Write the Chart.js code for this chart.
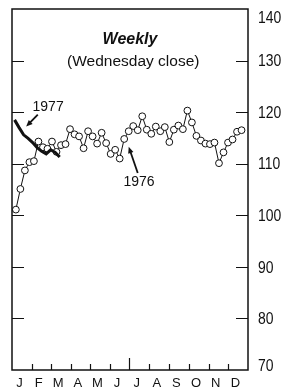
<!DOCTYPE html>
<html>
<head>
<meta charset="utf-8">
<script src="https://cdn.jsdelivr.net/npm/chart.js@4.4.0/dist/chart.umd.min.js"></script>
<style>
  html, body { margin: 0; padding: 0; background: #fff; }
</style>
</head>
<body>
<canvas id="myChart" width="293" height="391"></canvas>
<script>
// month letters and the day-of-year each month starts on (1976, leap year)
const monthLabels = ["J", "F", "M", "A", "M", "J", "J", "A", "S", "O", "N", "D"];
const monthStarts = [0, 31, 60, 91, 121, 152, 182, 213, 244, 274, 305, 335, 366];
const yTicks = [70, 80, 90, 100, 110, 120, 130, 140];

// weekly Wednesday closes
const firstWednesday1976 = 6;   // Jan 7, 1976
const close1976 = [101.1, 105.1, 108.7, 110.3, 110.5, 114.3, 113.2, 112.9, 114.3, 112.3,
    113.6, 113.8, 116.7, 115.7, 115.3, 113.0, 116.3, 115.3, 113.9, 116.0,
    114.0, 111.9, 112.7, 111.0, 114.8, 116.3, 117.3, 116.5, 119.2, 116.6,
    115.8, 117.2, 116.3, 117.1, 114.2, 116.6, 117.4, 116.7, 120.3, 118.0,
    115.4, 114.5, 113.9, 113.8, 114.1, 110.1, 112.2, 114.1, 114.7, 116.2, 116.5];

const firstWednesday1977 = 4;   // Jan 5, 1977
const close1977 = [118.5, 117.0, 115.6, 114.9, 114.1, 113.1, 112.4, 111.9, 112.7, 112.2, 111.3];

const toPoints = (first, values) => values.map((v, i) => ({ x: first + 7 * i, y: v }));

const ink = "#111";
const font = "'Liberation Sans', Arial, sans-serif";

const frame = {
    id: "frame",
    afterDraw(chart) {
        const ctx = chart.ctx;
        const x = chart.scales.x, y = chart.scales.y;
        const a = chart.chartArea;
        ctx.save();
        ctx.strokeStyle = ink;
        ctx.fillStyle = ink;

        // box
        ctx.lineWidth = 1.5;
        ctx.strokeRect(a.left, a.top, a.right - a.left, a.bottom - a.top);

        // inward y ticks on both sides
        ctx.lineWidth = 1.2;
        yTicks.forEach(v => {
            if (v === 70 || v === 140) return;
            const py = Math.round(y.getPixelForValue(v)) + 0.5;
            ctx.beginPath();
            ctx.moveTo(a.left, py); ctx.lineTo(a.left + 12, py);
            ctx.moveTo(a.right, py); ctx.lineTo(a.right - 12, py);
            ctx.stroke();
        });

        // month ticks along the bottom
        monthStarts.slice(1, -1).forEach(d => {
            const px = Math.round(x.getPixelForValue(d)) + 0.5;
            ctx.beginPath();
            ctx.moveTo(px, a.bottom);
            ctx.lineTo(px, a.bottom - (d === 182 ? 12 : 6));
            ctx.stroke();
        });

        // month letters
        ctx.font = "13px " + font;
        ctx.textAlign = "center";
        ctx.textBaseline = "middle";
        monthLabels.forEach((m, i) => {
            const mid = (monthStarts[i] + monthStarts[i + 1]) / 2 - 4;
            ctx.fillText(m, x.getPixelForValue(mid), 383);
        });

        // right side value labels
        ctx.font = "17px " + font;
        ctx.textAlign = "left";
        yTicks.forEach(v => {
            let py = y.getPixelForValue(v) + 1;
            if (v === 140) py += 8;
            if (v === 70) py -= 5;
            ctx.save();
            ctx.translate(a.right + 10, py);
            ctx.scale(0.82, 1);
            ctx.fillText(String(v), 0, 0);
            ctx.restore();
        });

        // headings
        ctx.textAlign = "center";
        ctx.font = "italic bold 16px " + font;
        ctx.fillText("Weekly", x.getPixelForValue(183), y.getPixelForValue(134.1));
        ctx.font = "15.5px " + font;
        ctx.fillText("(Wednesday close)", x.getPixelForValue(188), y.getPixelForValue(129.8));

        // year labels with arrows
        ctx.font = "14px " + font;
        ctx.fillText("1977", x.getPixelForValue(56), y.getPixelForValue(120.9));
        ctx.fillText("1976", x.getPixelForValue(197), y.getPixelForValue(106.5));
        arrow(ctx, x.getPixelForValue(40), y.getPixelForValue(119.5), x.getPixelForValue(22), y.getPixelForValue(117.2));
        arrow(ctx, x.getPixelForValue(195), y.getPixelForValue(108.2), x.getPixelForValue(181), y.getPixelForValue(113.3));
        ctx.restore();
    }
};

function arrow(ctx, x1, y1, x2, y2) {
    const ang = Math.atan2(y2 - y1, x2 - x1);
    ctx.lineWidth = 1.8;
    ctx.beginPath();
    ctx.moveTo(x1, y1);
    ctx.lineTo(x2 - 4 * Math.cos(ang), y2 - 4 * Math.sin(ang));
    ctx.stroke();
    ctx.beginPath();
    ctx.moveTo(x2, y2);
    ctx.lineTo(x2 - 7 * Math.cos(ang - 0.4), y2 - 7 * Math.sin(ang - 0.4));
    ctx.lineTo(x2 - 7 * Math.cos(ang + 0.4), y2 - 7 * Math.sin(ang + 0.4));
    ctx.closePath();
    ctx.fill();
}

const config = {
    type: "line",
    data: {
        datasets: [
            {
                label: "1977",
                data: toPoints(firstWednesday1977, close1977),
                borderColor: ink,
                borderWidth: 3,
                pointRadius: 0,
                tension: 0,
            },
            {
                label: "1976",
                data: toPoints(firstWednesday1976, close1976),
                borderColor: ink,
                borderWidth: 1,
                pointRadius: 3.4,
                pointBorderWidth: 1,
                pointBorderColor: ink,
                pointBackgroundColor: "#fff",
                tension: 0,
            }
        ]
    },
    options: {
        responsive: false,
        devicePixelRatio: 1,
        animation: false,
        layout: { padding: { left: 12, right: 45, top: 9, bottom: 21 } },
        scales: {
            x: { type: "linear", min: 0, max: 366, display: false },
            y: { min: 70, max: 140, display: false },
        },
        plugins: {
            legend: { display: false },
            tooltip: { enabled: false },
        }
    },
    plugins: [frame]
};

new Chart("myChart", config);
</script>
</body>
</html>
